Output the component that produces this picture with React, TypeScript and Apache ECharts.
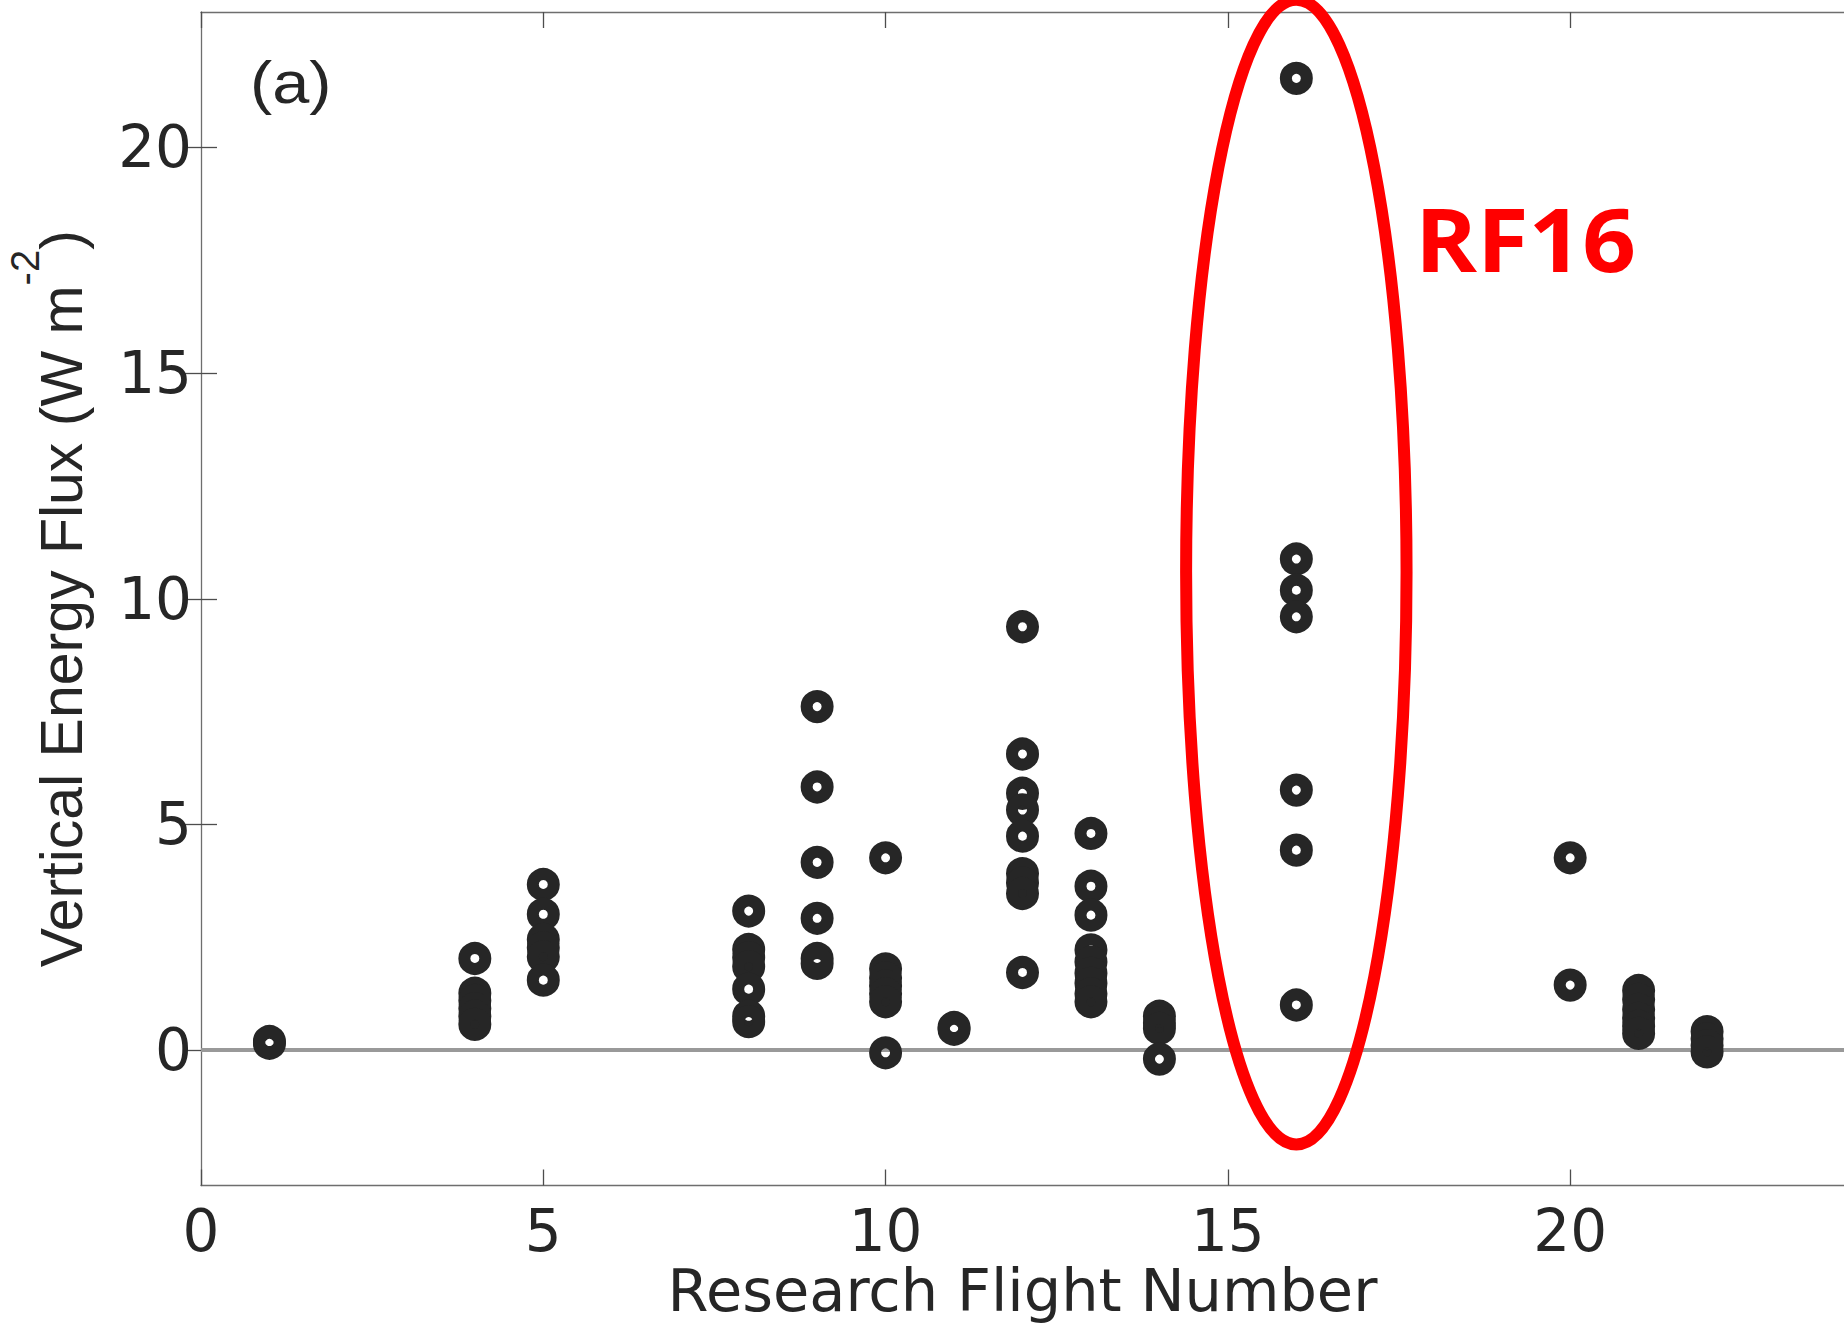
import React, { useEffect, useRef } from "react";
import * as echarts from "echarts";

// Research flights that have measurements
const flights: number[] = [1, 4, 5, 8, 9, 10, 11, 12, 13, 14, 16, 20, 21, 22];

// Vertical energy flux (W m^-2) for each flight, in the same order as `flights`
const fluxRF1: number[] = [0.19, 0.15];
const fluxRF4: number[] = [2.03, 1.26, 1.1, 0.92, 0.75, 0.57];
const fluxRF5: number[] = [3.67, 3.01, 2.45, 2.27, 2.07, 1.55];
const fluxRF8: number[] = [3.08, 2.23, 2.05, 1.85, 1.35, 0.75, 0.63];
const fluxRF9: number[] = [7.61, 5.83, 4.16, 2.92, 2.03, 1.92];
const fluxRF10: number[] = [4.26, 1.8, 1.6, 1.42, 1.25, 1.07, -0.06];
const fluxRF11: number[] = [0.5, 0.46];
const fluxRF12: number[] = [9.38, 6.56, 5.69, 5.32, 4.74, 3.91, 3.7, 3.47, 1.72];
const fluxRF13: number[] = [4.8, 3.63, 2.99, 2.22, 1.95, 1.7, 1.48, 1.25, 1.07];
const fluxRF14: number[] = [0.75, 0.6, 0.48, -0.2];
const fluxRF16: number[] = [21.53, 10.88, 10.19, 9.6, 5.76, 4.43, 1.0];
const fluxRF20: number[] = [4.26, 1.44];
const fluxRF21: number[] = [1.32, 1.12, 0.9, 0.7, 0.53, 0.37];
const fluxRF22: number[] = [0.41, 0.25, 0.1, -0.04];

const fluxByFlight: number[][] = [
  fluxRF1, fluxRF4, fluxRF5, fluxRF8, fluxRF9, fluxRF10, fluxRF11,
  fluxRF12, fluxRF13, fluxRF14, fluxRF16, fluxRF20, fluxRF21, fluxRF22,
];

const xTicks: number[] = [0, 5, 10, 15, 20];
const yTicks: number[] = [0, 5, 10, 15, 20];
const xRange: number[] = [0, 24];
const yRange: number[] = [-3, 23];

const xTitle = "Research Flight Number";
const panelLabel = "(a)";
const highlightLabel = "RF16";
// highlight ellipse around RF16 (data units)
const highlightCenter: number[] = [16, 10.59];
const highlightRadii: number[] = [1.61, 12.68];

export default function App() {
  const ref = useRef<HTMLDivElement>(null);

  useEffect(() => {
    document.body.style.margin = "0";
    const el = ref.current!;
    const chart = echarts.init(el, null, { renderer: "svg" });

    const points: number[][] = [];
    flights.forEach((f, i) => {
      fluxByFlight[i].forEach((v) => points.push([f, v]));
    });

    const axisColor = "#6e6e6e";
    const tickColor = "#4d4d4d";
    const textColor = "#262626";
    const tickFont = "DejaVu Sans";

    const tickStyle = { color: tickColor, width: 1.3 };

    chart.setOption({
      animation: false,
      backgroundColor: "#ffffff",
      grid: {
        left: 201,
        right: 0,
        top: 12,
        bottom: 137.5,
        containLabel: false,
        outerBoundsMode: "none",
      },
      xAxis: [
        {
          type: "value",
          min: xRange[0],
          max: xRange[1],
          position: "bottom",
          axisLine: { show: true, onZero: false, lineStyle: { color: axisColor, width: 1.3 } },
          axisTick: { show: true, inside: true, length: 16, customValues: xTicks, lineStyle: tickStyle },
          axisLabel: {
            show: true,
            customValues: xTicks,
            margin: 16,
            fontSize: 58,
            lineHeight: 58,
            fontFamily: tickFont,
            color: textColor,
          },
          splitLine: { show: false },
          name: xTitle,
          nameLocation: "middle",
          nameGap: 76,
          nameMoveOverlap: false,
          nameTextStyle: { fontSize: 59, fontFamily: tickFont, color: textColor, lineHeight: 58 },
        },
        {
          type: "value",
          min: xRange[0],
          max: xRange[1],
          position: "top",
          axisLine: { show: true, onZero: false, lineStyle: { color: axisColor, width: 1.3 } },
          axisTick: { show: true, inside: true, length: 16, customValues: xTicks, lineStyle: tickStyle },
          axisLabel: { show: false },
          splitLine: { show: false },
        },
      ],
      yAxis: [
        {
          type: "value",
          min: yRange[0],
          max: yRange[1],
          position: "left",
          axisLine: { show: true, onZero: false, lineStyle: { color: axisColor, width: 1.3 } },
          axisTick: { show: true, inside: true, length: 16, customValues: yTicks, lineStyle: tickStyle },
          axisLabel: {
            show: true,
            customValues: yTicks,
            margin: 9,
            fontSize: 58,
            fontFamily: tickFont,
            color: textColor,
          },
          splitLine: { show: false },
          name: "{n|Vertical Energy Flux (W m}{s|-2}{n|)}",
          nameLocation: "middle",
          nameRotate: 90,
          nameGap: 110,
          nameTextStyle: {
            color: textColor,
            fontFamily: "Liberation Sans",
            fontSize: 59,
            rich: {
              n: { fontSize: 59, fontFamily: "Liberation Sans", color: textColor, lineHeight: 86, verticalAlign: "bottom" },
              s: { fontSize: 40, fontFamily: "Liberation Sans", color: textColor, lineHeight: 40, verticalAlign: "top" },
            },
          },
        },
        {
          type: "value",
          min: yRange[0],
          max: yRange[1],
          position: "right",
          axisLine: { show: false },
          axisTick: { show: true, inside: true, length: 16, customValues: yTicks, lineStyle: tickStyle },
          axisLabel: { show: false },
          splitLine: { show: false },
        },
      ],
      series: [
        {
          type: "line",
          data: [],
          silent: true,
          markLine: {
            silent: true,
            symbol: ["none", "none"],
            z: 1,
            label: { show: false },
            lineStyle: { color: "#999999", width: 4, type: "solid" },
            data: [{ yAxis: 0 }],
          },
        },
        {
          type: "scatter",
          data: points,
          symbol: "circle",
          symbolSize: 21,
          z: 5,
          silent: true,
          itemStyle: { color: "rgba(0,0,0,0)", borderColor: "#262626", borderWidth: 12, opacity: 1 },
        },
      ],
    });

    const c = chart.convertToPixel({ xAxisIndex: 0, yAxisIndex: 0 }, highlightCenter) as number[];
    const e = chart.convertToPixel({ xAxisIndex: 0, yAxisIndex: 0 }, [
      highlightCenter[0] + highlightRadii[0],
      highlightCenter[1] + highlightRadii[1],
    ]) as number[];
    const rx = Math.abs(e[0] - c[0]);
    const ry = Math.abs(e[1] - c[1]);

    chart.setOption({
      graphic: [
        {
          type: "ellipse",
          silent: true,
          z: 20,
          shape: { cx: c[0], cy: c[1], rx, ry },
          style: { fill: "none", stroke: "#ff0000", lineWidth: 12 },
        },
        {
          type: "text",
          silent: true,
          z: 20,
          x: 1415,
          y: 238,
          scaleX: 1.08,
          style: {
            text: highlightLabel,
            fill: "#ff0000",
            fontSize: 87,
            fontWeight: "bold",
            fontFamily: "Open Sans",
            align: "left",
            verticalAlign: "middle",
            textAlign: "left",
            textVerticalAlign: "middle",
          },
        },
        {
          type: "text",
          silent: true,
          z: 20,
          x: 250,
          y: 82,
          scaleX: 1.13,
          style: {
            text: panelLabel,
            fill: textColor,
            fontSize: 59,
            fontFamily: "Liberation Sans",
            align: "left",
            verticalAlign: "middle",
            textAlign: "left",
            textVerticalAlign: "middle",
          },
        },
      ],
    });

    return () => {
      chart.dispose();
    };
  }, []);

  return (
    <div
      ref={ref}
      style={{ width: 1844, height: 1323, position: "absolute", left: 0, top: 0, overflow: "hidden" }}
    />
  );
}
